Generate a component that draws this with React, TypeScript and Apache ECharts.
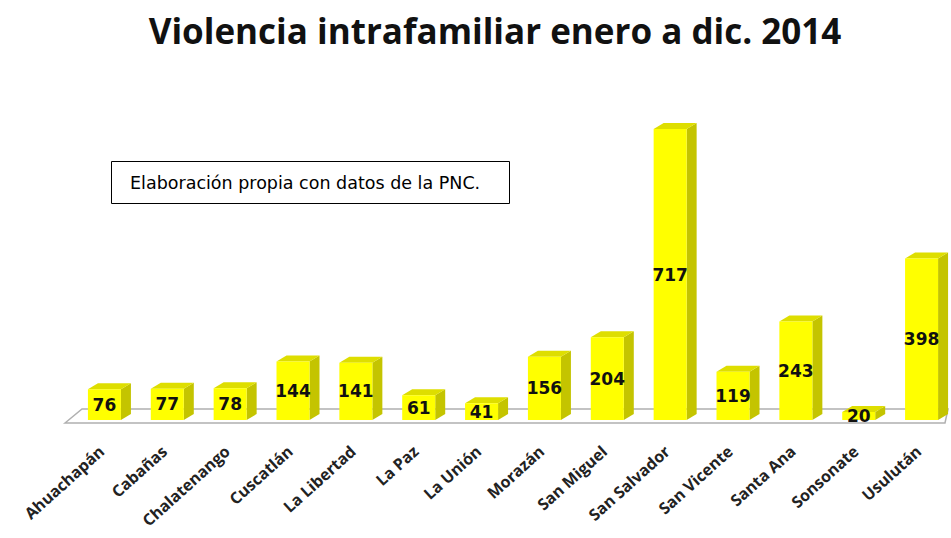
import React, { useEffect, useRef } from "react";
import * as echarts from "echarts";

const categories = [
  "Ahuachapán", "Cabañas", "Chalatenango", "Cuscatlán", "La Libertad", "La Paz", "La Unión",
  "Morazán", "San Miguel", "San Salvador", "San Vicente", "Santa Ana", "Sonsonate", "Usulután",
];
const values = [76, 77, 78, 144, 141, 61, 41, 156, 204, 717, 119, 243, 20, 398];
const titleText = "Violencia intrafamiliar enero a dic. 2014";
const noteText = "Elaboración propia con datos de la PNC.";

export default function App() {
  const ref = useRef<HTMLDivElement>(null);
  useEffect(() => {
    if (!ref.current) return;
    const chart = echarts.init(ref.current, undefined, { renderer: "svg" });
    const bw = 33, dx = 10, dy = 6;
    chart.setOption({
      animation: false,
      backgroundColor: "#ffffff",
      title: {
        text: titleText,
        left: 490,
        top: 8,
        textAlign: "center",
        textStyle: { fontFamily: "Open Sans", fontWeight: "bold", fontSize: 35, color: "#111" },
      },
      grid: { left: 73, width: 880, top: 129, bottom: 118, containLabel: false, outerBoundsMode: "none" },
      xAxis: {
        type: "category",
        data: categories,
        axisLine: { show: false },
        axisTick: { show: false },
        axisLabel: {
          rotate: 42,
          margin: 26,
          interval: 0,
          fontFamily: "Open Sans",
          fontWeight: "bold",
          fontSize: 16,
          color: "#222",
          padding: [0, 4, 0, 0],
        },
      },
      yAxis: { type: "value", min: 0, max: 717, show: false, splitLine: { show: false } },
      graphic: [
        {
          type: "polygon",
          z: 0,
          shape: { points: [[65, 423], [82, 409], [948, 409], [945, 423]] },
          style: { fill: "#ffffff", stroke: "#b0b0b0", lineWidth: 1.5 },
        },
        {
          type: "rect",
          shape: { x: 111.5, y: 161.5, width: 398, height: 42 },
          style: { fill: "#ffffff", stroke: "#000", lineWidth: 1 },
        },
        {
          type: "text",
          x: 130,
          y: 183,
          style: {
            text: noteText,
            fontFamily: "DejaVu Sans",
            fontSize: 17.5,
            fill: "#000",
            verticalAlign: "middle",
          },
        },
      ],
      series: [
        {
          type: "custom",
          z: 5,
          data: values.map((v, i) => [i, v]),
          renderItem: (params: any, api: any) => {
            const v = api.value(1);
            const t = api.coord([api.value(0), v]);
            const b = api.coord([api.value(0), 0]);
            const x0 = t[0] - bw / 2;
            const x1 = x0 + bw;
            return {
              type: "group",
              children: [
                {
                  type: "polygon",
                  shape: { points: [[x1, t[1]], [x1 + dx, t[1] - dy], [x1 + dx, b[1] - dy], [x1, b[1]]] },
                  style: { fill: "#c4c400" },
                },
                {
                  type: "polygon",
                  shape: { points: [[x0, t[1]], [x0 + dx, t[1] - dy], [x1 + dx, t[1] - dy], [x1, t[1]]] },
                  style: { fill: "#dede00" },
                },
                {
                  type: "rect",
                  shape: { x: x0, y: t[1], width: bw, height: b[1] - t[1] },
                  style: { fill: "#ffff00" },
                },
                {
                  type: "text",
                  x: t[0],
                  y: (t[1] + b[1]) / 2,
                  style: {
                    text: String(v),
                    align: "center",
                    verticalAlign: "middle",
                    fontFamily: "DejaVu Sans",
                    fontWeight: "bold",
                    fontSize: 17,
                    fill: "#111",
                  },
                },
              ],
            };
          },
        },
      ],
    });
    return () => chart.dispose();
  }, []);
  return <div ref={ref} style={{ position: "fixed", left: 0, top: 0, width: 951, height: 538 }} />;
}
